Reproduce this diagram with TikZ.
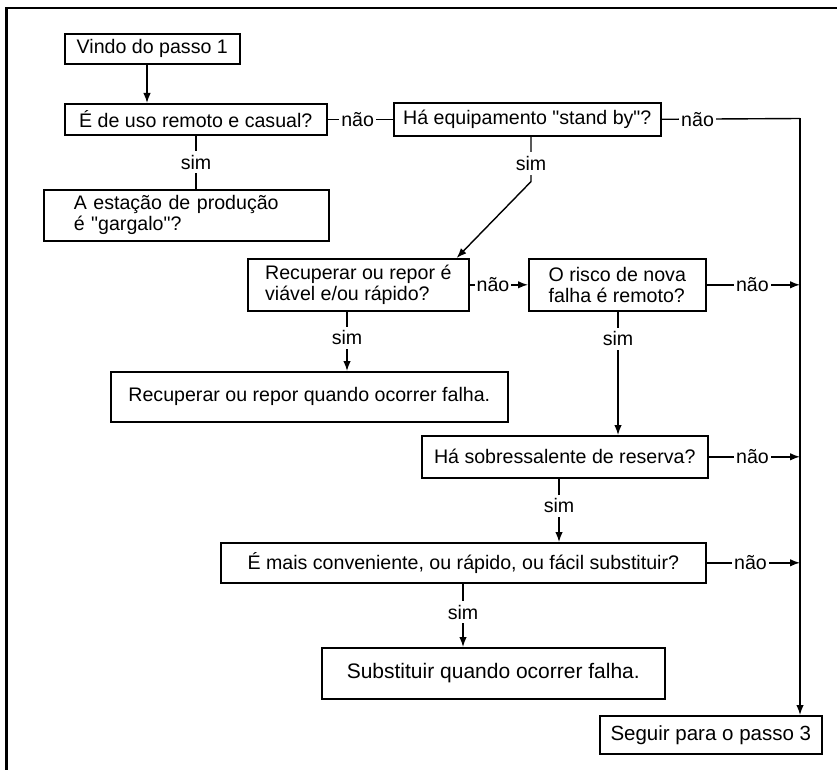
\documentclass[tikz,border=0pt]{standalone}
\usepackage{fontspec}
\setmainfont{Liberation Sans}
\usetikzlibrary{arrows.meta,calc}
\newcommand{\qq}{\textquotedbl}
\begin{document}
\begin{tikzpicture}[x=1pt,y=-1pt,
  box/.style={draw, line width=1.6pt, inner sep=0pt, anchor=north west,
              font=\fontsize{19.6}{21}\selectfont},
  link/.style={line width=1.4pt},
  arr/.style={link, -{Latex[length=10pt,width=7.5pt]}},
  lbl/.style={fill=white, inner xsep=2pt, inner ysep=4pt,
              font=\fontsize{19.6}{21}\selectfont}
]
\useasboundingbox (0,0) rectangle (837,770);
% page frame (top and left edges)
\draw[line width=2.5pt] (6.5,770) -- (6.5,8) -- (837,8);

% boxes
\node[box, minimum width=175, minimum height=30] (start) at (64,33) {Vindo do passo 1};
\node[box, minimum width=262, minimum height=31] (q1) at (64,103) {É de uso remoto e casual?};
\node[box, minimum width=267, minimum height=33] (q2) at (393,102) {Há equipamento \qq stand by\qq?};
\node[box, minimum width=285, minimum height=51, align=left, text width=225,
      inner xsep=30] (garg) at (43,189) {A estação de produção\\é \qq gargalo\qq?};
\node[box, minimum width=221, minimum height=52, align=left] (q3) at (247,258)
      {Recuperar ou repor é\\viável e/ou rápido?};
\node[box, minimum width=177, minimum height=52, align=left] (q4) at (528,258)
      {O risco de nova\\falha é remoto?};
\node[box, minimum width=397, minimum height=50] (a1) at (110,371)
      {Recuperar ou repor quando ocorrer falha.};
\node[box, minimum width=286, minimum height=42] (q5) at (421,435)
      {Há sobressalente de reserva?};
\node[box, minimum width=485, minimum height=40] (q6) at (220,542)
      {É mais conveniente, ou rápido, ou fácil substituir?};
\node[box, minimum width=343, minimum height=51, font=\fontsize{21}{23}\selectfont] (a2) at (321,647)
      {Substituir quando ocorrer falha.};
\node[box, minimum width=222, minimum height=38, font=\fontsize{20.5}{22}\selectfont] (end) at (599,715)
      {Seguir para o passo 3};

% right-hand rail collecting the "não" exits
\coordinate (rail) at (800,118.5);

% connectors
\draw[arr] ($(start.south west)+(83,0)$) -- ($(q1.north west)+(83,0)$);
\draw[link] (q1.east) -- node[lbl,pos=0.46]{não} (q1.east -| q2.west);
\draw[link] (q2.east) -- node[lbl,pos=0.26]{não} (rail);
\draw[arr] (rail) -- (rail |- end.north);

\draw[link] ($(q1.south west)+(132,0)$) -- node[lbl]{sim} ($(garg.north west)+(153,0)$);
\draw[arr] ($(q2.south west)+(138,0)$) -- node[lbl,pos=0.6]{sim}
           ($(q2.south west)+(138,45)$) -- ($(q3.north east)+(-13,0)$);

\draw[arr] (q3.east) -- node[lbl,pos=0.4]{não} (q3.east -| q4.west);
\draw[arr] (q4.east) -- node[lbl,pos=0.49]{não} (q4.east -| rail);
\draw[arr] ($(q3.south west)+(100,0)$) -- node[lbl,pos=0.44]{sim} ($(a1.north west)+(237,0)$);
\draw[arr] ($(q4.south west)+(90,0)$) -- node[lbl,pos=0.22]{sim} ($(q5.north west)+(197,0)$);

\draw[arr] (q5.east) -- node[lbl,pos=0.48]{não} (q5.east -| rail);
\draw[arr] ($(q5.south west)+(138,0)$) -- node[lbl,pos=0.43]{sim} ($(q6.north west)+(339,0)$);

\draw[arr] (q6.east) -- node[lbl,pos=0.47]{não} (q6.east -| rail);
\draw[arr] ($(q6.south west)+(243,0)$) -- node[lbl,pos=0.45]{sim} ($(a2.north west)+(142,0)$);
\end{tikzpicture}
\end{document}
